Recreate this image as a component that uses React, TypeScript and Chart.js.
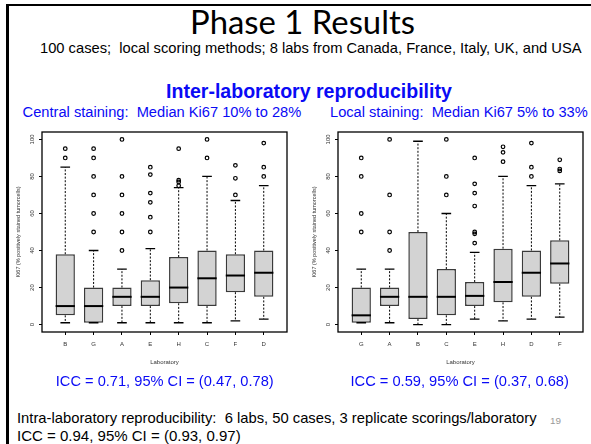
import React, { useEffect, useRef } from "react";
import { Chart, registerables } from "chart.js";

Chart.register(...registerables);

// ---------- Central staining (left panel) ----------
const centralLabs = ["B", "G", "A", "E", "H", "C", "F", "D"];
const centralLow = [1, 1, 1, 1, 1, 1, 2, 3];
const centralQ1 = [5, 1, 10, 10, 11.5, 10, 17.5, 15];
const centralMedian = [10, 10, 15, 15, 20, 25, 26.5, 28];
const centralQ3 = [38, 20, 20, 24, 36.5, 40, 38, 40];
const centralHigh = [85, 40, 30, 41, 74, 80, 67, 75];
const centralOutliers = [
  [90, 95],
  [50, 60, 70, 80, 90, 95],
  [40, 50, 60, 70, 80, 100],
  [50, 58, 66, 71, 81, 85],
  [75, 77, 78, 95],
  [90, 100],
  [70, 79, 86],
  [80, 85, 98],
];

// ---------- Local staining (right panel) ----------
const localLabs = ["G", "A", "B", "C", "E", "H", "D", "F"];
const localLow = [1, 1, 0, 0, 3, 2, 3, 4];
const localQ1 = [1, 10, 3, 5, 10, 12, 15, 22];
const localMedian = [5, 15, 15, 15, 15.5, 23, 28, 33];
const localQ3 = [20, 20, 50, 30, 23, 41, 40, 45.5];
const localHigh = [30, 30, 99, 60, 39, 80, 75, 76];
const localOutliers = [
  [50, 60, 80, 90],
  [40, 50, 70, 100],
  [],
  [70, 80, 100],
  [44, 49, 50, 64, 71, 76, 90],
  [88, 93, 96],
  [80, 85, 98],
  [83, 84, 89],
];

const yTicks = [0, 20, 40, 60, 80, 100];
const yTitle = "Ki67 (% positively stained tumorcells)";
const xTitle = "Laboratory";

type Panel = {
  labs: string[];
  low: number[];
  q1: number[];
  med: number[];
  q3: number[];
  high: number[];
  out: number[][];
};

function BoxPanel(props: Panel & { style: React.CSSProperties }) {
  const ref = useRef<HTMLCanvasElement | null>(null);
  useEffect(() => {
    const { labs, low, q1, med, q3, high, out } = props;
    const n = labs.length;
    const extras = {
      id: "boxExtras",
      afterDatasetsDraw(chart: any) {
        const { ctx, chartArea, scales } = chart;
        const x = scales.x;
        const y = scales.y;
        const meta = chart.getDatasetMeta(0);
        ctx.save();
        meta.data.forEach((bar: any, i: number) => {
          const w = bar.getProps(["width"], true).width;
          const cx = x.getPixelForValue(i + 1);
          ctx.strokeStyle = "#000";
          ctx.lineWidth = 1;
          ctx.setLineDash([2, 1.6]);
          ctx.beginPath();
          ctx.moveTo(cx, y.getPixelForValue(q3[i]));
          ctx.lineTo(cx, y.getPixelForValue(high[i]));
          ctx.moveTo(cx, y.getPixelForValue(q1[i]));
          ctx.lineTo(cx, y.getPixelForValue(low[i]));
          ctx.stroke();
          ctx.setLineDash([]);
          ctx.lineWidth = 1.3;
          ctx.beginPath();
          const hs = w / 4;
          ctx.moveTo(cx - hs, y.getPixelForValue(high[i]));
          ctx.lineTo(cx + hs, y.getPixelForValue(high[i]));
          ctx.moveTo(cx - hs, y.getPixelForValue(low[i]));
          ctx.lineTo(cx + hs, y.getPixelForValue(low[i]));
          ctx.stroke();
          ctx.lineWidth = 2;
          ctx.beginPath();
          ctx.moveTo(cx - w / 2, y.getPixelForValue(med[i]));
          ctx.lineTo(cx + w / 2, y.getPixelForValue(med[i]));
          ctx.stroke();
        });
        ctx.lineWidth = 1.3;
        ctx.strokeStyle = "#000";
        ctx.strokeRect(
          chartArea.left,
          chartArea.top,
          chartArea.right - chartArea.left,
          chartArea.bottom - chartArea.top
        );
        ctx.restore();
      },
    };
    const outlierData: { x: number; y: number }[] = [];
    out.forEach((vals, i) => vals.forEach((v) => outlierData.push({ x: i + 1, y: v })));
    const tickFont = { family: "Liberation Sans, Arial, sans-serif", size: 6 };
    const chart = new Chart(ref.current as HTMLCanvasElement, {
      type: "bar",
      data: {
        datasets: [
          {
            type: "bar",
            data: labs.map((_, i) => ({ x: i + 1, y: [q1[i], q3[i]] })) as any,
            backgroundColor: "#d3d3d3",
            borderColor: "#3a3a3a",
            borderWidth: 1.5,
            borderSkipped: false,
            barPercentage: 0.68,
            categoryPercentage: 1,
          } as any,
          {
            type: "scatter",
            data: outlierData,
            pointRadius: 1.8,
            pointBorderWidth: 1.2,
            pointBorderColor: "#000",
            pointBackgroundColor: "rgba(255,255,255,0)",
          } as any,
        ],
      },
      options: {
        animation: false,
        responsive: false,
        maintainAspectRatio: false,
        layout: { padding: { top: 10, right: 7, bottom: 5, left: 0 } },
        plugins: { legend: { display: false }, tooltip: { enabled: false } },
        scales: {
          x: {
            type: "linear",
            offset: false,
            min: 0.18,
            max: n + 0.82,
            afterBuildTicks: (s: any) => {
              s.ticks = labs.map((_, i) => ({ value: i + 1 }));
            },
            afterFit: (s: any) => {
              s.height = 40;
            },
            ticks: {
              callback: (v: any) => labs[Math.round(Number(v)) - 1] ?? "",
              font: tickFont,
              color: "#333",
              padding: 6,
              maxRotation: 0,
              minRotation: 0,
              autoSkip: false,
            },
            grid: {
              display: true,
              offset: false,
              drawOnChartArea: false,
              drawTicks: true,
              tickLength: 3,
              color: "#000",
              lineWidth: 1,
            },
            border: { display: false },
            title: {
              display: true,
              text: xTitle,
              font: { family: "Liberation Sans, Arial, sans-serif", size: 6 },
              color: "#333",
              padding: { top: 0, bottom: 6.5 },
            },
          },
          y: {
            type: "linear",
            min: -4,
            max: 104,
            afterBuildTicks: (s: any) => {
              s.ticks = yTicks.map((v) => ({ value: v }));
            },
            afterFit: (s: any) => {
              s.width = 34;
            },
            ticks: {
              font: tickFont,
              color: "#333",
              padding: 1.5,
              minRotation: 90,
              maxRotation: 90,
              crossAlign: "center",
            },
            grid: {
              display: true,
              drawOnChartArea: false,
              drawTicks: true,
              tickLength: 3,
              color: "#000",
              lineWidth: 1,
            },
            border: { display: false },
            title: {
              display: true,
              text: yTitle,
              font: { family: "Liberation Sans, Arial, sans-serif", size: 5.5 },
              color: "#333",
              padding: { top: 7, bottom: 0 },
            },
          },
        },
      },
      plugins: [extras],
    } as any);
    return () => chart.destroy();
  }, []);
  return (
    <canvas
      ref={ref}
      width={286}
      height={255}
      style={{ position: "absolute", width: 286, height: 255, ...props.style }}
    />
  );
}

const arial = "'Liberation Sans', Arial, sans-serif";
const lato = "Lato, 'Open Sans', sans-serif";
const blue = "#0a0af5";

let measureCtx: CanvasRenderingContext2D | null = null;
function fitFontSize(text: string, family: string, weight: string, width: number) {
  if (!measureCtx) measureCtx = document.createElement("canvas").getContext("2d");
  const c = measureCtx as CanvasRenderingContext2D;
  c.font = `${weight} 100px ${family}`;
  const w = c.measureText(text).width || 1;
  return (100 * width) / w;
}

function Txt(props: {
  text: string;
  x0: number;
  x1: number;
  yc: number;
  family?: string;
  weight?: string;
  color: string;
}) {
  const family = props.family ?? arial;
  const weight = props.weight ?? "normal";
  const size = fitFontSize(props.text, family, weight, props.x1 - props.x0);
  const k = family === lato ? 0.53 : 0.49;
  return (
    <div
      style={{
        position: "absolute",
        left: props.x0,
        top: props.yc - k * size,
        whiteSpace: "pre",
        fontFamily: family,
        fontWeight: weight as any,
        fontSize: size,
        lineHeight: 1,
        color: props.color,
      }}
    >
      {props.text}
    </div>
  );
}

export default function App() {
  return (
    <div
      style={{
        position: "absolute",
        left: 0,
        top: 0,
        width: 591,
        height: 444,
        background: "#fff",
        overflow: "hidden",
      }}
    >
      <div
        style={{
          position: "absolute",
          left: 6,
          top: 4,
          width: 600,
          height: 460,
          borderLeft: "3px solid #000",
          borderTop: "2.5px solid #000",
        }}
      />
      <Txt text="Phase 1 Results" x0={190} x1={415} yc={23} family={lato} color="#000" />
      <Txt
        text={"100 cases;\u00a0 local scoring methods; 8 labs from Canada, France, Italy, UK, and USA"}
        x0={40}
        x1={582}
        yc={48}
        color="#000"
      />
      <Txt text="Inter-laboratory reproducibility" x0={166} x1={452} yc={92} weight="bold" color={blue} />
      <Txt text={"Central staining:\u00a0 Median Ki67 10% to 28%"} x0={22.6} x1={301.5} yc={112} color={blue} />
      <Txt text={"Local staining:\u00a0 Median Ki67 5% to 33%"} x0={330} x1={588} yc={112} color={blue} />
      <BoxPanel
        labs={centralLabs}
        low={centralLow}
        q1={centralQ1}
        med={centralMedian}
        q3={centralQ3}
        high={centralHigh}
        out={centralOutliers}
        style={{ left: 8, top: 122 }}
      />
      <BoxPanel
        labs={localLabs}
        low={localLow}
        q1={localQ1}
        med={localMedian}
        q3={localQ3}
        high={localHigh}
        out={localOutliers}
        style={{ left: 304, top: 122 }}
      />
      <Txt text="ICC = 0.71, 95% CI = (0.47, 0.78)" x0={55.8} x1={274} yc={381} color={blue} />
      <Txt text="ICC = 0.59, 95% CI = (0.37, 0.68)" x0={350.5} x1={569} yc={381} color={blue} />
      <Txt
        text={"Intra-laboratory reproducibility:\u00a0 6 labs, 50 cases, 3 replicate scorings/laboratory"}
        x0={17}
        x1={537}
        yc={418}
        color="#000"
      />
      <Txt text="ICC = 0.94, 95% CI = (0.93, 0.97)" x0={17} x1={241} yc={435} color="#000" />
      <Txt text="19" x0={550} x1={561} yc={421} color="#999" />
    </div>
  );
}
